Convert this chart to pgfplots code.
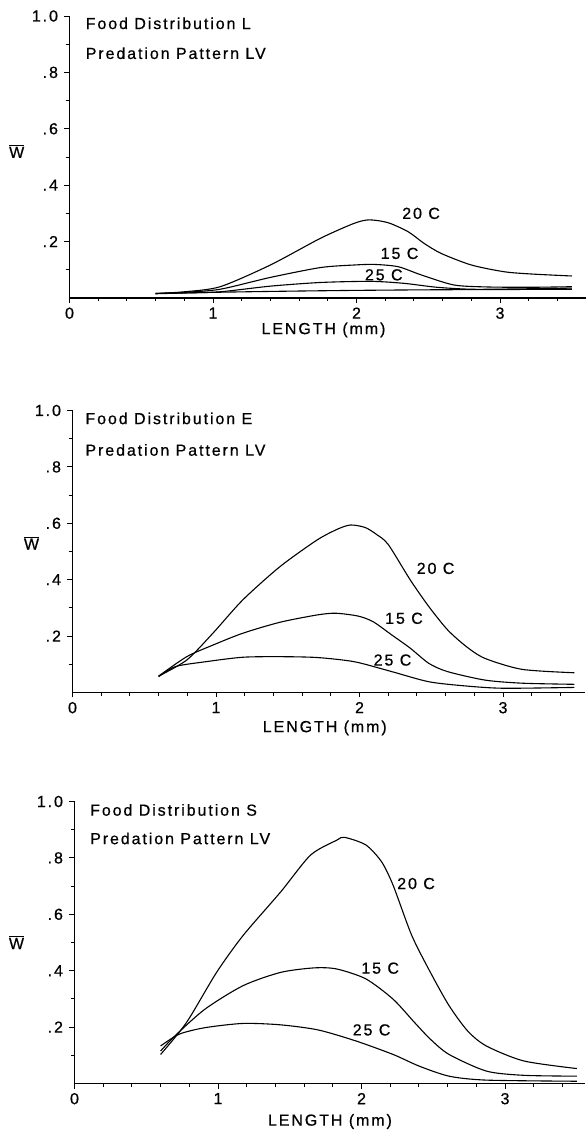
\documentclass[border=0pt]{standalone}
\usepackage{fontspec}
\setmainfont{Liberation Sans}[LetterSpace=12.0, FakeBold=0.6]
\usepackage{pgfplots}
\pgfplotsset{compat=1.18}
\pgfplotsset{
  panel/.style={
    scale only axis, anchor=south west,
    height=282pt, xmin=0, ymin=0, ymax=1,
    axis lines=left, axis line style={-, line width=1.1pt},
    tick align=outside, major tick length=5pt, minor tick length=3.5pt,
    every tick/.style={black, line width=0.9pt},
    xtick={0,1,2,3}, xticklabels={0,1,2,3},
    minor xtick={0.2,0.4,0.6,0.8,1.2,1.4,1.6,1.8,2.2,2.4,2.6,2.8,3.2,3.4},
    ytick={0.2,0.4,0.6,0.8,1.0}, yticklabels={.2,.4,.6,.8,1.0},
    minor ytick={0.1,0.3,0.5,0.7,0.9},
    tick label style={font=\fontsize{16}{16}\selectfont},
    xticklabel style={yshift=-1pt},
    yticklabel style={xshift=-3pt},
    clip=false,
    every axis plot post/.append style={black, solid, line width=1.1pt, smooth, tension=0.45, mark=none},
  },
}
\tikzset{lab/.style={font=\fontsize{16}{16}\selectfont, inner sep=0pt}}
\begin{document}
\begin{tikzpicture}
\useasboundingbox (0,0) rectangle (588pt,1132pt);
% ---------------- Panel 1: Food distribution L
\begin{axis}[panel, at={(69.5pt,834pt)}, xmax=3.6, width=516.6pt]
\addplot coordinates {(0.60,0.016) (0.80,0.022) (1.05,0.040) (1.40,0.117) (1.75,0.212) (1.985,0.265) (2.09,0.277) (2.22,0.267) (2.36,0.235) (2.47,0.194) (2.59,0.158) (2.80,0.117) (3.03,0.093) (3.22,0.085) (3.50,0.078)};
\addplot coordinates {(0.60,0.016) (0.80,0.020) (1.05,0.031) (1.40,0.073) (1.75,0.108) (1.985,0.117) (2.125,0.119) (2.29,0.111) (2.45,0.082) (2.68,0.046) (2.92,0.039) (3.22,0.038) (3.50,0.040)};
\addplot coordinates {(0.60,0.016) (0.80,0.018) (1.05,0.022) (1.40,0.042) (1.75,0.055) (2.10,0.059) (2.33,0.052) (2.56,0.038) (2.80,0.031) (3.10,0.032) (3.50,0.035)};
\addplot coordinates {(0.60,0.015) (1.0,0.020) (1.5,0.024) (2.0,0.027) (2.5,0.029) (3.0,0.030) (3.5,0.031)};
\node[lab, anchor=west] at (axis cs:0.112,0.974) {Food Distribution L};
\node[lab, anchor=west] at (axis cs:0.112,0.868) {Predation Pattern LV};
\node[lab] at (axis cs:2.45,0.30) {20 C};
\node[lab] at (axis cs:2.30,0.158) {15 C};
\node[lab] at (axis cs:2.19,0.082) {25 C};
\node[lab] at (axis cs:1.77,0) [yshift=-32pt] {LENGTH (mm)};
\node[lab] at (axis cs:0,0.52) [xshift=-52.8pt] {$\overline{\mbox{W}}$};
\end{axis}
% ---------------- Panel 2: Food distribution E
\begin{axis}[panel, at={(72.5pt,439.5pt)}, xmax=3.57, width=512.3pt]
\addplot coordinates {(0.60,0.058) (0.796,0.115) (0.978,0.21) (1.186,0.328) (1.445,0.446) (1.705,0.541) (1.85,0.580) (1.939,0.594) (2.04,0.585) (2.12,0.560) (2.20,0.525) (2.354,0.399) (2.484,0.304) (2.614,0.222) (2.744,0.163) (2.874,0.121) (3.133,0.082) (3.497,0.070)};
\addplot coordinates {(0.60,0.058) (0.796,0.127) (0.978,0.168) (1.186,0.21) (1.445,0.249) (1.705,0.275) (1.835,0.281) (1.99,0.271) (2.095,0.251) (2.225,0.204) (2.354,0.157) (2.484,0.103) (2.614,0.074) (2.874,0.044) (3.133,0.033) (3.497,0.029)};
\addplot coordinates {(0.60,0.056) (0.718,0.092) (0.926,0.109) (1.186,0.125) (1.445,0.127) (1.705,0.124) (1.965,0.109) (2.225,0.074) (2.484,0.038) (2.744,0.023) (3.004,0.015) (3.497,0.018)};
\node[lab, anchor=west] at (axis cs:0.089,0.972) {Food Distribution E};
\node[lab, anchor=west] at (axis cs:0.089,0.860) {Predation Pattern LV};
\node[lab] at (axis cs:2.53,0.44) {20 C};
\node[lab] at (axis cs:2.31,0.263) {15 C};
\node[lab] at (axis cs:2.23,0.115) {25 C};
\node[lab] at (axis cs:1.758,0) [yshift=-35.5pt] {LENGTH (mm)};
\node[lab] at (axis cs:0,0.53) [xshift=-41pt] {$\overline{\mbox{W}}$};
\end{axis}
% ---------------- Panel 3: Food distribution S
\begin{axis}[panel, at={(74.5pt,48.5pt)}, xmax=3.56, width=510.9pt]
\addplot coordinates {(0.60,0.103) (0.78,0.216) (0.99,0.394) (1.175,0.525) (1.436,0.679) (1.645,0.810) (1.828,0.863) (1.88,0.873) (2.03,0.846) (2.14,0.786) (2.22,0.703) (2.35,0.525) (2.48,0.394) (2.61,0.276) (2.74,0.186) (2.87,0.133) (3.13,0.080) (3.50,0.053)};
\addplot coordinates {(0.60,0.115) (0.70,0.169) (0.91,0.264) (1.175,0.347) (1.436,0.394) (1.67,0.410) (1.828,0.406) (2.03,0.371) (2.22,0.299) (2.37,0.216) (2.48,0.157) (2.61,0.103) (2.87,0.044) (3.13,0.029) (3.50,0.026)};
\addplot coordinates {(0.60,0.133) (0.73,0.175) (0.91,0.198) (1.175,0.213) (1.436,0.208) (1.697,0.190) (1.96,0.151) (2.22,0.103) (2.40,0.062) (2.61,0.026) (2.87,0.012) (3.50,0.008)};
\node[lab, anchor=west] at (axis cs:0.108,0.970) {Food Distribution S};
\node[lab, anchor=west] at (axis cs:0.108,0.869) {Predation Pattern LV};
\node[lab] at (axis cs:2.38,0.709) {20 C};
\node[lab] at (axis cs:2.13,0.409) {15 C};
\node[lab] at (axis cs:2.07,0.19) {25 C};
\node[lab] at (axis cs:1.78,0) [yshift=-38pt] {LENGTH (mm)};
\node[lab] at (axis cs:0,0.50) [xshift=-58pt] {$\overline{\mbox{W}}$};
\end{axis}
\end{tikzpicture}
\end{document}
